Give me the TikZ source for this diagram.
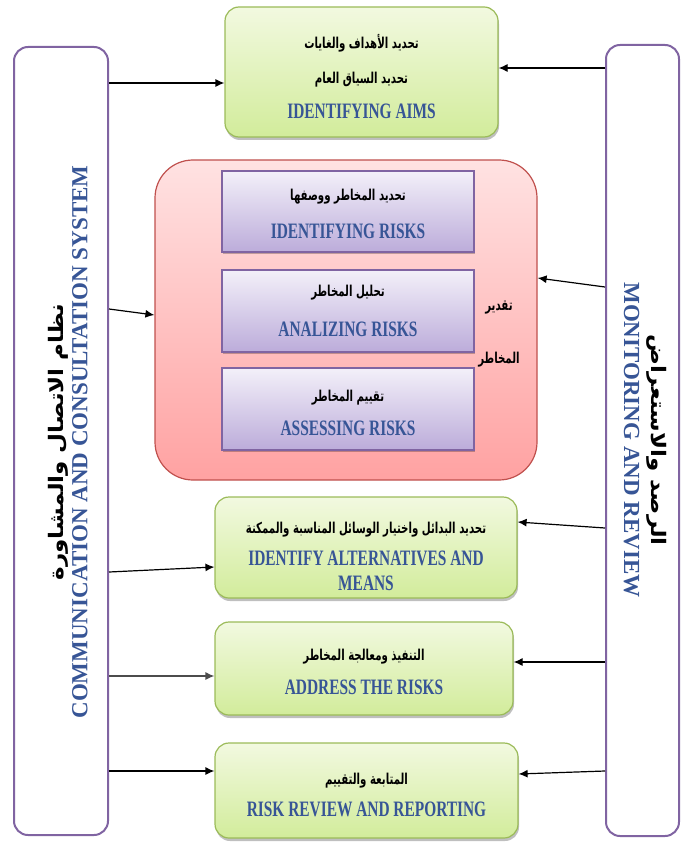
\documentclass[tikz,border=0pt]{standalone}
\usepackage{fontspec}
\setmainfont{Liberation Serif}
\newfontfamily\arabicfont[Script=Arabic, FakeStretch=0.68]{DejaVu Sans}
\newfontfamily\arabicside[Script=Arabic, FakeStretch=1.15]{DejaVu Sans}
\newfontfamily\narrowfont[FakeStretch=0.70]{Liberation Serif}
\TeXXeTstate=1
\usetikzlibrary{positioning, shadows, arrows.meta}
\definecolor{barpurple}{RGB}{128,100,162}
\definecolor{greenedge}{RGB}{155,187,89}
\definecolor{greentop}{RGB}{242,249,224}
\definecolor{greenbot}{RGB}{210,236,155}
\definecolor{rededge}{RGB}{192,80,77}
\definecolor{redtop}{RGB}{255,226,226}
\definecolor{redbot}{RGB}{255,162,162}
\definecolor{lilactop}{RGB}{243,240,249}
\definecolor{lilacbot}{RGB}{188,172,218}
\definecolor{textblue}{RGB}{55,85,150}
\newcommand{\artext}[1]{{\arabicfont\bfseries\fontsize{15}{15}\selectfont\beginR #1\endR}}
\newcommand{\sidearabic}[1]{{\arabicside\bfseries\fontsize{20}{20}\selectfont\beginR #1\endR}}
\newcommand{\boxtext}[1]{{\narrowfont\bfseries\fontsize{22}{22}\selectfont\color{textblue}#1}}
\newcommand{\sidetext}[1]{{\bfseries\fontsize{23}{23}\selectfont\color{textblue}#1}}
\newcommand{\dropline}[1]{\rule{0pt}{#1}}
\begin{document}
\begin{tikzpicture}[x=1pt, y=-1pt,
  flow/.style={-{Latex[length=9pt, width=8pt]}, line width=1.2pt},
  sidebar/.style={draw=barpurple, line width=2pt, rounded corners=14pt, fill=white, inner sep=0pt},
  stepgreen/.style={draw=greenedge, line width=1.2pt, rounded corners=14pt, top color=greentop, bottom color=greenbot, inner sep=0pt, align=center,
    drop shadow={shadow xshift=1pt, shadow yshift=-3pt, opacity=0.25, fill=black}},
  riskgroup/.style={draw=rededge, line width=1.2pt, rounded corners=38pt, top color=redtop, bottom color=redbot, inner sep=0pt},
  riskstep/.style={draw=barpurple, line width=1.2pt, top color=lilactop, bottom color=lilacbot, inner sep=0pt, align=center, minimum width=252pt,
    drop shadow={shadow xshift=1pt, shadow yshift=-2pt, opacity=0.25, fill=black}}]
\useasboundingbox (0,0) rectangle (681,842);

\node[sidebar, minimum width=94pt, minimum height=788pt] (comm) at (61,441) {};
\node[sidebar, minimum width=73pt, minimum height=791pt] (monitor) at (642.5,440.5) {};
\node[rotate=90, align=center, font=\fontsize{20}{24}\selectfont] (commtext) at (68,442)
  {\sidearabic{نظام الاتصال والمشاورة}\\\sidetext{COMMUNICATION AND CONSULTATION SYSTEM}};
\node[rotate=-90, align=center, font=\fontsize{20}{27}\selectfont] (monitortext) at (645,440)
  {\sidearabic{الرصد والاستعراض}\\\sidetext{MONITORING AND REVIEW}};

\node[stepgreen, minimum width=273pt, minimum height=130pt, font=\fontsize{15}{35}\selectfont] (aims) at (361.5,72)
  {\dropline{24pt}\artext{تحديد الأهداف والغايات}\\\artext{تحديد السياق العام}\\\boxtext{IDENTIFYING AIMS}};

\node[riskgroup, minimum width=382pt, minimum height=320pt] (risk) at (346,320) {};
\node[riskstep, minimum height=81pt, font=\fontsize{15}{38}\selectfont] (identify) at (348,211.5)
  {\dropline{17pt}\artext{تحديد المخاطر ووصفها}\\\boxtext{IDENTIFYING RISKS}};
\node[riskstep, minimum height=82pt, font=\fontsize{15}{40}\selectfont] (analyze) at (348,311)
  {\artext{تحليل المخاطر}\\\boxtext{ANALIZING RISKS}};
\node[riskstep, minimum height=82pt, font=\fontsize{15}{34}\selectfont] (assess) at (348,409)
  {\dropline{20pt}\artext{تقييم المخاطر}\\\boxtext{ASSESSING RISKS}};
\node[align=center, font=\fontsize{15}{53}\selectfont] (risklabel) at (499,334)
  {\artext{تقدير}\\\artext{المخاطر}};

\node[stepgreen, minimum width=302pt, minimum height=101pt, font=\fontsize{15}{25}\selectfont] (alternatives) at (366,547.5)
  {\dropline{30pt}\artext{تحديد البدائل واختيار الوسائل المناسبة والممكنة}\\[7pt]\boxtext{IDENTIFY ALTERNATIVES AND}\\\boxtext{MEANS}};
\node[stepgreen, minimum width=298pt, minimum height=93pt, font=\fontsize{15}{34}\selectfont] (address) at (364,668.5)
  {\dropline{18pt}\artext{التنفيذ ومعالجة المخاطر}\\\boxtext{ADDRESS THE RISKS}};
\node[stepgreen, minimum width=303pt, minimum height=95pt, font=\fontsize{15}{32}\selectfont] (review) at (366.5,790.5)
  {\dropline{20pt}\artext{المتابعة والتقييم}\\\boxtext{RISK REVIEW AND REPORTING}};

\draw[flow] (comm.east |- 0,83) -- (aims.west |- 0,83);
\draw[flow] (comm.east |- 0,309) -- (risk.west |- 0,315);
\draw[flow] (comm.east |- 0,572) -- (alternatives.west |- 0,567);
\draw[flow, black!70] (comm.east |- 0,676) -- (address.west |- 0,676);
\draw[flow] (comm.east |- 0,771) -- (review.west |- 0,771);
\draw[flow] (monitor.west |- 0,68) -- (aims.east |- 0,68);
\draw[flow] (monitor.west |- 0,287) -- (risk.east |- 0,278);
\draw[flow] (monitor.west |- 0,528) -- (alternatives.east |- 0,522);
\draw[flow] (monitor.west |- 0,662) -- (address.east |- 0,662);
\draw[flow] (monitor.west |- 0,771) -- (review.east |- 0,774);
\end{tikzpicture}
\end{document}
